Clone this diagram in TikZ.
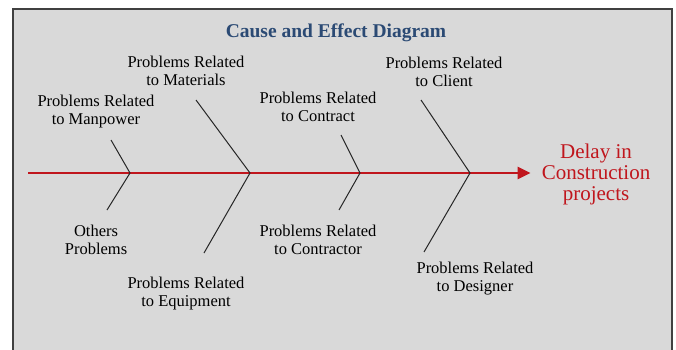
\documentclass[tikz,border=0pt]{standalone}
\usepackage{fontspec}
\setmainfont{Liberation Serif}
\usetikzlibrary{arrows.meta,positioning}

\definecolor{panelgray}{HTML}{D9D9D9}
\definecolor{titleblue}{HTML}{2B4A74}
\definecolor{spinered}{HTML}{C0161D}

\begin{document}
\begin{tikzpicture}[x=1pt,y=-1pt,
    cause/.style={align=center,inner sep=0pt,font=\fontsize{16.5}{18}\selectfont},
    effect/.style={align=center,inner sep=0pt,text=spinered,font=\fontsize{21}{21}\selectfont},
    bone/.style={line width=1pt,black!85},
    spine/.style={line width=2.6pt,spinered,-{Triangle[length=13pt,width=12pt]}}]
    \useasboundingbox (0,0) rectangle (676,350);
    \filldraw[fill=panelgray,draw=black!75,line width=1.5pt] (13,9) rectangle (672,362);
    \node[font=\bfseries\fontsize{19.5}{22}\selectfont,text=titleblue] (title) at (336,33) {Cause and Effect Diagram};

    % head and backbone
    \node[effect] (delay) at (596,174) {Delay in\\Construction\\projects};
    \coordinate (tail) at (28,173);
    \draw[spine,shorten >=11pt] (tail) -- (delay.west |- tail);

    % joints on the backbone
    \coordinate (j1) at (130,173);
    \coordinate (j2) at (250,173);
    \coordinate (j3) at (360,173);
    \coordinate (j4) at (470,173);

    % causes above
    \node[cause] (manpower) at (96,112) {Problems Related\\to Manpower};
    \node[cause] (materials) at (186,71) {Problems Related\\to Materials};
    \node[cause] (contract) at (318,107) {Problems Related\\to Contract};
    \node[cause] (client) at (444,72) {Problems Related\\to Client};

    % causes below
    \node[cause] (others) at (96,240) {Others\\Problems};
    \node[cause] (equipment) at (186,294) {Problems Related\\to Equipment};
    \node[cause] (contractor) at (318,240) {Problems Related\\to Contractor};
    \node[cause] (designer) at (475,279) {Problems Related\\to Designer};

    % bones
    \coordinate (t1) at (111,140);
    \coordinate (b1) at (107,210);
    \coordinate (t2) at (196,100);
    \coordinate (b2) at (204,253);
    \coordinate (t3) at (341,135);
    \coordinate (b3) at (339,210);
    \coordinate (t4) at (421,100);
    \coordinate (b4) at (424,252);
    \draw[bone] (t1) -- (j1) -- (b1);
    \draw[bone] (t2) -- (j2) -- (b2);
    \draw[bone] (t3) -- (j3) -- (b3);
    \draw[bone] (t4) -- (j4) -- (b4);
\end{tikzpicture}
\end{document}
